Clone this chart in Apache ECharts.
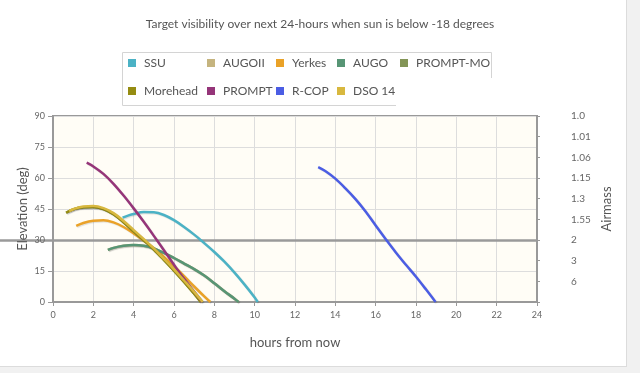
<!DOCTYPE html>
<html><head><meta charset="utf-8">
<script src="https://cdn.jsdelivr.net/npm/echarts@6/dist/echarts.min.js"></script>
<style>
html,body{margin:0;padding:0;background:#f1f1f1;width:640px;height:373px;overflow:hidden}
#panel{position:absolute;left:0;top:0;width:626px;height:366px;background:#fff;border-right:1px solid #dcdcdc;border-bottom:1px solid #dcdcdc}
#chart{position:absolute;left:0;top:0;width:640px;height:373px}
</style></head><body><div id="panel"></div><div id="chart"></div>
<script>
const titleText = 'Target visibility over next 24-hours when sun is below -18 degrees';
const xAxisTitle = 'hours from now';
const yAxisTitle = 'Elevation (deg)';
const y2AxisTitle = 'Airmass';
const seriesNames = ['SSU', 'AUGOII', 'Yerkes', 'AUGO', 'PROMPT-MO', 'Morehead', 'PROMPT', 'R-COP', 'DSO 14'];
const seriesColors = ['#4bb2c5', '#c5b47f', '#eaa228', '#579575', '#839557', '#958c12', '#953579', '#4b5de4', '#d8b83f'];
// airmass tick labels for elevation 0,10,...,90
const airmassLabels = ['', '6', '3', '2', '1.55', '1.3', '1.15', '1.06', '1.01', '1.0'];
const refLineElevation = 30;

// [hours from now, elevation deg]
const ssu = [[3.45,40.8],[3.75,41.9],[4,42.6],[4.5,43.5],[5,43.4],[5.5,42.1],[6,39.6],[6.5,36.3],[7,32.6],[7.5,28.5],[8,24.2],[8.5,19.5],[9,14.2],[9.5,8.4],[10,2.2],[10.15,0]];
const augoii = [[2.72,25.2],[3,26.2],[3.5,27.2],[4,27.6],[4.5,27.2],[5,25.9],[5.5,23.8],[6,21.3],[6.5,18.6],[7,15.9],[7.5,12.8],[8,9.1],[8.5,5.2],[9,1.6],[9.2,0]];
const yerkes = [[1.15,36.8],[1.5,38.2],[2,39.3],[2.5,39.5],[3,38.5],[3.5,36.3],[4,33.2],[4.5,29.7],[5,26],[5.5,21.8],[6,17.3],[6.5,12.5],[7,7.5],[7.5,2.7],[7.8,0]];
const augo = [[2.72,25.2],[3,26.2],[3.5,27.2],[4,27.6],[4.5,27.2],[5,25.9],[5.5,23.8],[6,21.3],[6.5,18.6],[7,15.9],[7.5,12.8],[8,9.1],[8.5,5.2],[9,1.6],[9.2,0]];
const promptMo = [[0.65,43.2],[1,44.8],[1.5,45.8],[2,46],[2.5,45],[3,42.5],[3.5,38.6],[4,34.2],[4.5,29.9],[5,25.4],[5.5,20.4],[6,15.2],[6.5,9.7],[7,4],[7.33,0]];
const morehead = [[0.65,43.2],[1,44.8],[1.5,45.8],[2,46],[2.5,45],[3,42.5],[3.5,38.6],[4,34.2],[4.5,29.9],[5,25.4],[5.5,20.4],[6,15.2],[6.5,9.7],[7,4],[7.33,0]];
const prompt = [[1.67,67.4],[2,65.6],[2.5,62],[3,57.2],[3.5,51.5],[4,45.3],[4.5,38.8],[5,32],[5.5,25],[6,18],[6.5,11.2],[7,5],[7.4,0]];
const rcop = [[13.15,65.3],[13.5,63.4],[14,59.7],[14.5,55],[15,49.8],[15.5,43.8],[16,37],[16.5,30.4],[17,24],[17.5,18],[18,12.2],[18.5,6],[18.97,0]];
const dso14 = [[0.8,44],[1,44.9],[1.5,46.2],[2,46.4],[2.5,45.4],[3,43],[3.5,39.2],[4,34.8],[4.5,30.4],[5,25.9],[5.5,20.9],[6,15.8],[6.5,10.4],[7,4.9],[7.42,0]];

const seriesData = [ssu, augoii, yerkes, augo, promptMo, morehead, prompt, rcop, dso14];

const FONT = 'Lato';
const chart = echarts.init(document.getElementById('chart'), null, {renderer: 'canvas'});

// legend laid out as a 5-column table (two rows)
const colLefts = [128, 207, 276, 337, 400];
const legends = colLefts.map((left, c) => ({
  left: left, top: 56, padding: 0, orient: 'vertical', itemGap: 14,
  itemWidth: 8, itemHeight: 8, icon: 'rect', selectedMode: false,
  textStyle: {fontFamily: FONT, fontSize: 12, lineHeight: 14, color: '#555', padding: [0, 0, 0, 3]},
  data: [seriesNames[c], seriesNames[c + 5]].filter(n => n)
}));

const refLineStyle = {color: '#9a9a9a', width: 2.5, type: 'solid'};
const series = seriesNames.map((name, i) => {
  const s = {
    name: name, type: 'line', data: seriesData[i], showSymbol: false, symbol: 'none',
    smooth: 0.35, color: seriesColors[i], clip: false,
    lineStyle: {width: 2.5, color: seriesColors[i], shadowColor: 'rgba(0,0,0,0.12)', shadowBlur: 1, shadowOffsetX: 1, shadowOffsetY: 1},
    emphasis: {disabled: true}, animation: false, z: 3
  };
  if (i === 0) {
    s.markLine = {
      silent: true, symbol: ['none', 'none'], animation: false, z: 2.5,
      label: {show: false}, lineStyle: refLineStyle, emphasis: {disabled: true},
      data: [[{yAxis: refLineElevation, xAxis: 0}, {yAxis: refLineElevation, xAxis: 24}]]
    };
  }
  if (i === 1) {
    s.markLine = {
      silent: true, symbol: ['none', 'none'], animation: false, z: -1,
      label: {show: false}, lineStyle: refLineStyle, emphasis: {disabled: true},
      data: [[{yAxis: refLineElevation, x: 0}, {yAxis: refLineElevation, xAxis: 0}]]
    };
  }
  return s;
});

chart.setOption({
  animation: false,
  textStyle: {fontFamily: FONT},
  title: {
    text: titleText, left: 'center', top: 13,
    textStyle: {fontFamily: FONT, fontSize: 12, fontWeight: 'normal', color: '#555'}
  },
  legend: legends,
  graphic: [{
    type: 'polyline', silent: true,
    shape: {points: [[122.5, 105.5], [122.5, 52.5], [491.5, 52.5], [491.5, 78]]},
    style: {stroke: '#d4d4d4', lineWidth: 1, fill: null}
  }, {
    type: 'line', silent: true,
    shape: {x1: 122.5, y1: 105.5, x2: 396, y2: 105.5},
    style: {stroke: '#d4d4d4', lineWidth: 1}
  }],
  grid: {
    left: 53, right: 103, top: 116, bottom: 71, show: true,
    backgroundColor: '#fffdf6', borderColor: '#999', borderWidth: 2
  },
  xAxis: {
    type: 'value', min: 0, max: 24, interval: 2,
    name: xAxisTitle, nameLocation: 'middle', nameGap: 34, nameMoveOverlap: false,
    nameTextStyle: {fontFamily: FONT, fontSize: 13, color: '#555'},
    axisLine: {show: true, lineStyle: {color: '#999', width: 2}},
    axisTick: {show: true, length: 4, lineStyle: {color: '#999'}},
    axisLabel: {fontFamily: FONT, fontSize: 9, color: '#666', margin: 9},
    splitLine: {show: true, lineStyle: {color: '#dddddd', width: 1}}
  },
  yAxis: [{
    type: 'value', min: 0, max: 90, interval: 15, position: 'left',
    name: yAxisTitle, nameLocation: 'middle', nameGap: 24, nameMoveOverlap: false,
    nameTextStyle: {fontFamily: FONT, fontSize: 13, color: '#555'},
    axisLine: {show: true, lineStyle: {color: '#999', width: 2}},
    axisTick: {show: true, length: 5, lineStyle: {color: '#999'}},
    axisLabel: {fontFamily: FONT, fontSize: 9, color: '#666', margin: 8},
    splitLine: {show: true, lineStyle: {color: '#dddddd', width: 1}}
  }, {
    type: 'value', min: 0, max: 90, interval: 10, position: 'right',
    name: y2AxisTitle, nameLocation: 'middle', nameGap: 63, nameMoveOverlap: false,
    nameTextStyle: {fontFamily: FONT, fontSize: 13, color: '#555'},
    axisLine: {show: true, lineStyle: {color: '#999', width: 2}},
    axisTick: {show: true, length: 3, lineStyle: {color: '#999'}},
    axisLabel: {fontFamily: FONT, fontSize: 10, color: '#666', margin: 34, align: 'left',
      formatter: v => airmassLabels[Math.round(v / 10)] || ''},
    splitLine: {show: false}
  }],
  series: series
});
</script></body></html>
